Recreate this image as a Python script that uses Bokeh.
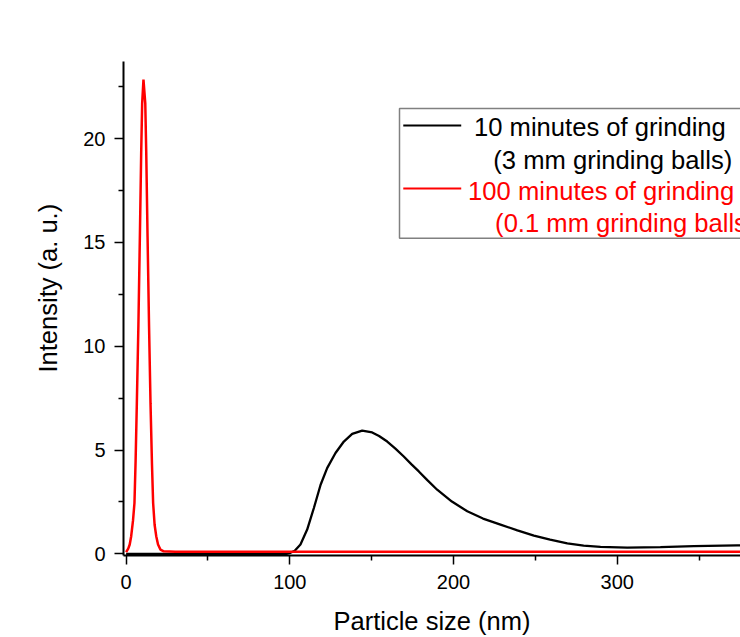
from bokeh.plotting import figure
from bokeh.models import Range1d, FixedTicker, Label, BoxAnnotation, Arrow, Title
from bokeh.embed import file_html
from bokeh.resources import INLINE

# ---- data ----
size_10min = [0, 50, 98, 100.4, 103, 106.5, 110.6, 114.7, 118.8, 122.8, 127.9, 133.0,
              138.1, 144.2, 150.3, 154.5, 159.5, 164.5, 169.6, 174.5, 178.8, 184.0,
              190.0, 199.0, 208.4, 218.0, 228.7, 239.0, 249.1, 259.0, 269.5, 279.5,
              289.8, 306.1, 326.4, 346.8, 373.3, 380]
intensity_10min = [0.0, 0.0, 0.0, 0.05, 0.15, 0.45, 1.17, 2.21, 3.33, 4.13, 4.86, 5.41,
                   5.78, 5.94, 5.85, 5.68, 5.41, 5.07, 4.69, 4.30, 3.97, 3.55,
                   3.09, 2.52, 2.05, 1.70, 1.41, 1.13, 0.88, 0.68, 0.50, 0.40,
                   0.34, 0.30, 0.32, 0.37, 0.41, 0.42]

size_100min = [0, 1.3, 2.2, 3.1, 4.2, 5.1, 5.8, 6.55, 7.5, 8.4, 9.2, 9.8, 10.6, 11.7,
               12.3, 13.1, 14.0, 14.9, 15.8, 16.5, 17.4, 18.4, 19.5, 21.0, 23.0, 30,
               100, 200, 300, 380]
intensity_100min = [0.08, 0.25, 0.45, 0.85, 1.6, 2.45, 4.5, 7.26, 11.0, 15.27, 19.3, 21.7,
                    22.85, 21.7, 19.3, 15.27, 11.0, 7.26, 4.3, 2.45, 1.4, 0.85, 0.45,
                    0.2, 0.12, 0.1, 0.1, 0.1, 0.1, 0.1]

x_major_ticks = [0, 100, 200, 300]
x_minor_ticks = [50, 150, 250, 350]
y_major_ticks = [0, 5, 10, 15, 20]
y_minor_ticks = [2.5, 7.5, 12.5, 17.5, 22.5]

x_title = "Particle size (nm)"
y_title = "Intensity (a. u.)"
legend_black = ["10 minutes of grinding", "(3 mm grinding balls)"]
legend_red = ["100 minutes of grinding", "(0.1 mm grinding balls)"]

FONT = "Liberation Sans"

p = figure(width=740, height=637, output_backend="svg", toolbar_location=None,
           x_range=Range1d(-1.6, 375.3), y_range=Range1d(-0.08, 23.72),
           min_border_left=123, min_border_right=0, min_border_top=61,
           min_border_bottom=81)
p.outline_line_color = None
p.grid.visible = False
p.background_fill_color = "white"
p.border_fill_color = "white"

for ax, major, minor in ((p.xaxis[0], x_major_ticks, x_minor_ticks),
                         (p.yaxis[0], y_major_ticks, y_minor_ticks)):
    ax.ticker = FixedTicker(ticks=major, minor_ticks=minor)
    ax.axis_line_color = "black"
    ax.axis_line_width = 2
    ax.major_tick_line_color = "black"
    ax.major_tick_line_width = 1.5
    ax.minor_tick_line_color = "black"
    ax.minor_tick_line_width = 1.5
    ax.major_tick_in = 0
    ax.major_tick_out = 9
    ax.minor_tick_in = 0
    ax.minor_tick_out = 5
    ax.major_label_text_font = FONT
    ax.major_label_text_font_size = "20px"
    ax.major_label_text_color = "black"

p.xaxis[0].major_label_standoff = 10
p.yaxis[0].major_label_standoff = 9

p.xaxis[0].axis_label = x_title
p.xaxis[0].axis_label_text_font = FONT
p.xaxis[0].axis_label_text_font_size = "25.5px"
p.xaxis[0].axis_label_text_font_style = "normal"
p.xaxis[0].axis_label_text_color = "black"
p.xaxis[0].axis_label_standoff = 15

p.line(size_10min, intensity_10min, line_color="black", line_width=2.3)
p.line(size_100min, intensity_100min, line_color="#ff0000", line_width=2.5)

# y title as a side title, shifted along the axis like the reference
p.add_layout(Title(text=y_title, align="left", offset=183, text_font=FONT,
                   text_font_size="25.5px", text_font_style="normal",
                   text_color="black", standoff=37), "left")

# legend box
p.add_layout(BoxAnnotation(left=167.0, right=400, bottom=15.21, top=21.46,
                           fill_color="white", fill_alpha=1.0,
                           line_color="#808080", line_width=1.5, line_alpha=1.0))
p.add_layout(Arrow(end=None, x_start=169.3, y_start=20.64, x_end=204.7, y_end=20.64,
                   line_color="black", line_width=2))
p.add_layout(Arrow(end=None, x_start=169.3, y_start=17.60, x_end=204.7, y_end=17.60,
                   line_color="#ff0000", line_width=2))

for (x, y, t, c) in ((212.5, 20.56, legend_black[0], "black"),
                     (224.3, 18.96, legend_black[1], "black"),
                     (208.9, 17.48, legend_red[0], "#ff0000"),
                     (225.4, 15.95, legend_red[1], "#ff0000")):
    p.add_layout(Label(x=x, y=y, text=t, text_font=FONT, text_font_size="25.6px",
                       text_color=c, text_align="left", text_baseline="alphabetic"))

open("out.html", "w").write(file_html(p, INLINE))
